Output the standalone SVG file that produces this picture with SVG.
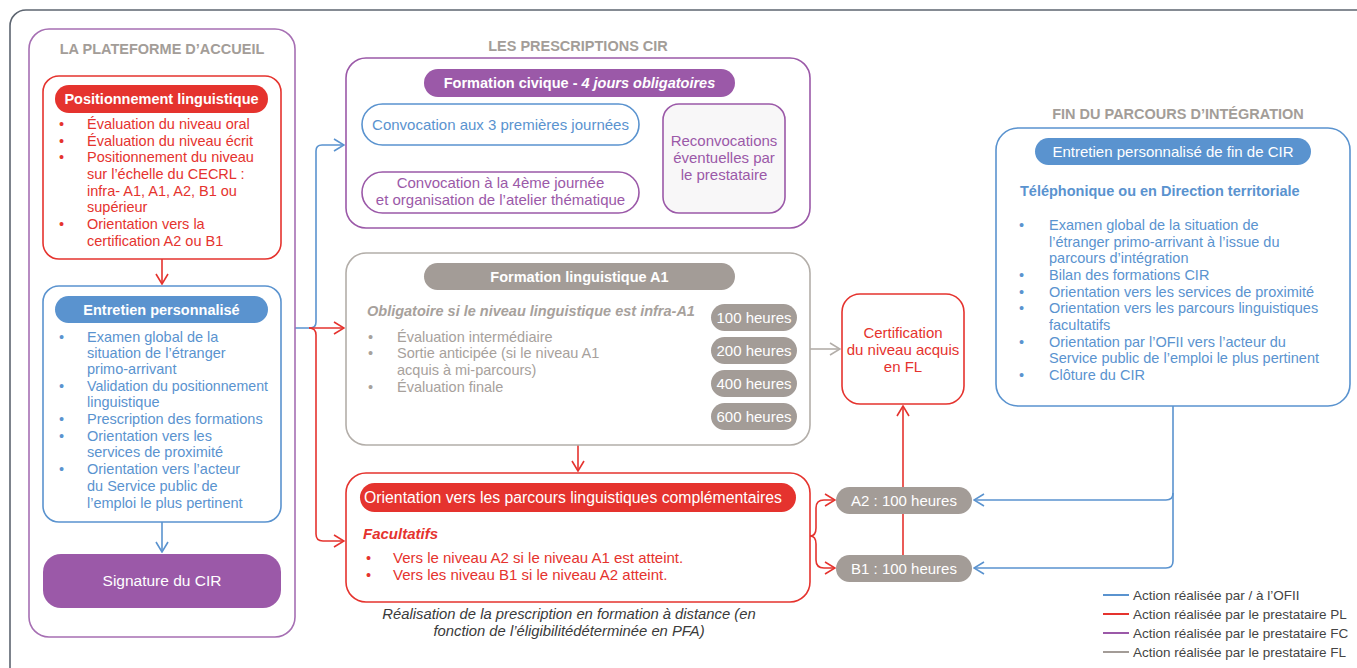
<svg xmlns="http://www.w3.org/2000/svg" width="1357" height="668" viewBox="0 0 1357 668">
<defs>
<style>
text{font-family:"Liberation Sans",Arial,sans-serif;font-size:14.5px}
.sec{fill:#a39d98;font-size:14.5px;font-weight:700;text-anchor:middle}
.ph{fill:#fff;font-weight:700;text-anchor:middle}
.pn{fill:#fff;text-anchor:middle;font-size:15px}
.red{fill:#e5332e}
.blue{fill:#5a93cf}
.pur{fill:#9b59a8}
.gry{fill:#a7a19c}
.c{text-anchor:middle}
.f15{font-size:15px}
.bb{stroke:#5a93cf}
.br{stroke:#e5332e}
.bp{stroke:#9b59a8}
.bg{stroke:#b3aea9}
.box{fill:#fff;stroke-width:1.6}
.ln{fill:none;stroke-width:1.6}
.leg{fill:#444;font-size:13.5px}
</style>
<marker id="ab" viewBox="0 0 12 14" refX="11" refY="7" markerWidth="12" markerHeight="14" markerUnits="userSpaceOnUse" orient="auto"><path d="M1,1 L11,7 L1,13" fill="none" stroke="#5a93cf" stroke-width="1.6"/></marker>
<marker id="ar" viewBox="0 0 12 14" refX="11" refY="7" markerWidth="12" markerHeight="14" markerUnits="userSpaceOnUse" orient="auto"><path d="M1,1 L11,7 L1,13" fill="none" stroke="#e5332e" stroke-width="1.6"/></marker>
<marker id="ap" viewBox="0 0 12 14" refX="11" refY="7" markerWidth="12" markerHeight="14" markerUnits="userSpaceOnUse" orient="auto"><path d="M1,1 L11,7 L1,13" fill="none" stroke="#9b59a8" stroke-width="1.6"/></marker>
<marker id="ag" viewBox="0 0 12 14" refX="11" refY="7" markerWidth="12" markerHeight="14" markerUnits="userSpaceOnUse" orient="auto"><path d="M1,1 L11,7 L1,13" fill="none" stroke="#b3aea9" stroke-width="1.6"/></marker>
</defs>
<rect width="1357" height="668" fill="#fff"/>
<rect x="10" y="10" width="1370" height="680" rx="16" fill="none" stroke="#5d6570" stroke-width="1.6"/>

<g id="connectors">
<path class="ln br" d="M162,259 V284" marker-end="url(#ar)"/>
<path class="ln bb" d="M162,522 V552" marker-end="url(#ab)"/>
<path class="ln bb" d="M295,328 H310 Q316,328 316,322 V151 Q316,145 322,145 H344" marker-end="url(#ab)"/>
<path class="ln br" d="M309,328 H344" marker-end="url(#ar)"/>
<path class="ln br" d="M309,328 Q316,328 316,335 V534 Q316,541 323,541 H344" marker-end="url(#ar)"/>
<path class="ln bp" d="M497,145 V170" marker-end="url(#ap)"/>
<path class="ln bp" d="M639,127 C650,127 645,157 661,157" marker-end="url(#ap)"/>
<path class="ln bp" d="M639,192 C650,192 645,157 661,157" marker-end="url(#ap)"/>
<path class="ln br" d="M578,445 V471" marker-end="url(#ar)"/>
<path class="ln bg" d="M810,349 H840" marker-end="url(#ag)"/>
<path class="ln br" d="M903,555 V406" marker-end="url(#ar)"/>
<path class="ln br" d="M810,536 Q816,536 816,528 V508 Q816,500 824,500 H835" marker-end="url(#ar)"/>
<path class="ln br" d="M810,536 Q816,536 816,544 V560 Q816,568 824,568 H835" marker-end="url(#ar)"/>
<path class="ln bb" d="M1173,406 V493 Q1173,500 1166,500 H974" marker-end="url(#ab)"/>
<path class="ln bb" d="M1173,493 V561 Q1173,568 1166,568 H974" marker-end="url(#ab)"/>
</g>

<g id="plateforme">
<rect x="29" y="29" width="266" height="608" rx="20" fill="none" stroke="#a66fb3" stroke-width="1.6"/>
<text class="sec" x="162" y="54">LA PLATEFORME D’ACCUEIL</text>
</g>

<g id="positionnement">
<rect class="box br" x="43" y="76" width="238" height="183" rx="16"/>
<rect x="55" y="85" width="213" height="28" rx="14" fill="#e5332e"/>
<text class="ph" x="161.5" y="104">Positionnement linguistique</text>
<g class="red">
<text x="59" y="129">•</text><text x="87" y="129">Évaluation du niveau oral</text>
<text x="59" y="146">•</text><text x="87" y="146">Évaluation du niveau écrit</text>
<text x="59" y="162">•</text><text x="87" y="162">Positionnement du niveau</text>
<text x="87" y="179">sur l’échelle du CECRL :</text>
<text x="87" y="196">infra- A1, A1, A2, B1 ou</text>
<text x="87" y="212">supérieur</text>
<text x="59" y="229">•</text><text x="87" y="229">Orientation vers la</text>
<text x="87" y="246">certification A2 ou B1</text>
</g>
</g>

<g id="entretien">
<rect class="box bb" x="43" y="286" width="238" height="236" rx="16"/>
<rect x="55" y="296" width="213" height="27" rx="13.5" fill="#5a93cf"/>
<text class="ph" x="161.5" y="314.5">Entretien personnalisé</text>
<g class="blue">
<text x="59" y="342">•</text><text x="87" y="342">Examen global de la</text>
<text x="87" y="358">situation de l’étranger</text>
<text x="87" y="374">primo-arrivant</text>
<text x="59" y="391">•</text><text x="87" y="391" textLength="181" lengthAdjust="spacingAndGlyphs">Validation du positionnement</text>
<text x="87" y="407">linguistique</text>
<text x="59" y="424">•</text><text x="87" y="424">Prescription des formations</text>
<text x="59" y="441">•</text><text x="87" y="441">Orientation vers les</text>
<text x="87" y="457">services de proximité</text>
<text x="59" y="474">•</text><text x="87" y="474">Orientation vers l’acteur</text>
<text x="87" y="491">du Service public de</text>
<text x="87" y="508">l’emploi le plus pertinent</text>
</g>
</g>

<g id="signature">
<rect x="43" y="554" width="238" height="54" rx="18" fill="#9b59a8"/>
<text class="pn" x="162" y="586" style="font-size:15.5px">Signature du CIR</text>
</g>

<g id="formation-civique">
<text class="sec" x="578" y="51">LES PRESCRIPTIONS CIR</text>
<rect class="box bp" x="346" y="58" width="464" height="170" rx="20"/>
<rect x="424" y="69" width="311" height="28" rx="14" fill="#9b59a8"/>
<text class="ph" x="579.5" y="88">Formation civique - <tspan font-style="italic">4 jours obligatoires</tspan></text>
</g>

<g id="convocation-3">
<rect class="box bb" x="362" y="104" width="277" height="41" rx="20.5"/>
<text class="blue c f15" x="500.5" y="130">Convocation aux 3 premières journées</text>
</g>

<g id="convocation-4">
<rect class="box bp" x="362" y="172" width="277" height="41" rx="20.5"/>
<text class="pur c f15" x="500.5" y="188">Convocation à la 4ème journée</text>
<text class="pur c f15" x="500.5" y="205">et organisation de l’atelier thématique</text>
</g>

<g id="reconvocations">
<rect x="663" y="104" width="122" height="109" rx="16" fill="#f8f7f8" stroke="#9b59a8" stroke-width="1.6"/>
<text class="pur c f15" x="724" y="146">Reconvocations</text>
<text class="pur c f15" x="724" y="163">éventuelles par</text>
<text class="pur c f15" x="724" y="180">le prestataire</text>
</g>

<g id="formation-linguistique">
<rect class="box bg" x="346" y="253" width="464" height="192" rx="20"/>
<rect x="424" y="263" width="311" height="27" rx="13.5" fill="#a39c97"/>
<text class="ph" x="579.5" y="281.5">Formation linguistique A1</text>
<text class="gry" x="367" y="316" font-weight="700" font-style="italic">Obligatoire si le niveau linguistique est infra-A1</text>
<g class="gry">
<text x="368" y="342">•</text><text x="397" y="342">Évaluation intermédiaire</text>
<text x="368" y="358">•</text><text x="397" y="358">Sortie anticipée (si le niveau A1</text>
<text x="397" y="375">acquis à mi-parcours)</text>
<text x="368" y="392">•</text><text x="397" y="392">Évaluation finale</text>
</g>
<rect x="711" y="304" width="86" height="27" rx="13.5" fill="#a39c97"/>
<text class="pn" x="754" y="322.5">100 heures</text>
<rect x="711" y="337" width="86" height="27" rx="13.5" fill="#a39c97"/>
<text class="pn" x="754" y="355.5">200 heures</text>
<rect x="711" y="370" width="86" height="27" rx="13.5" fill="#a39c97"/>
<text class="pn" x="754" y="388.5">400 heures</text>
<rect x="711" y="403" width="86" height="27" rx="13.5" fill="#a39c97"/>
<text class="pn" x="754" y="421.5">600 heures</text>
</g>

<g id="orientation">
<rect class="box br" x="346" y="473" width="464" height="129" rx="20"/>
<rect x="360" y="483" width="436" height="29" rx="14.5" fill="#e5332e"/>
<text class="pn" x="573" y="503" style="font-size:15.8px">Orientation vers les parcours linguistiques complémentaires</text>
<text class="red f15" x="363" y="539" font-weight="700" font-style="italic">Facultatifs</text>
<g class="red">
<text x="366" y="563">•</text><text class="f15" x="393" y="563">Vers le niveau A2 si le niveau A1 est atteint.</text>
<text x="366" y="580">•</text><text class="f15" x="393" y="580">Vers les niveau B1 si le niveau A2 atteint.</text>
</g>
<text x="569" y="619" fill="#3a3a3a" font-style="italic" text-anchor="middle" style="font-size:14.8px">Réalisation de la prescription en formation à distance (en</text>
<text x="569" y="636" fill="#3a3a3a" font-style="italic" text-anchor="middle" style="font-size:14.8px">fonction de l’éligibilitédéterminée en PFA)</text>
</g>

<g id="certification">
<rect class="box br" x="842" y="294" width="122" height="110" rx="18"/>
<text class="red c f15" x="903" y="338">Certification</text>
<text class="red c f15" x="903" y="355">du niveau acquis</text>
<text class="red c f15" x="903" y="372">en FL</text>
</g>

<g id="a2">
<rect x="836" y="487" width="136" height="27" rx="13.5" fill="#a39c97"/>
<text class="pn" x="904" y="505.5">A2 : 100 heures</text>
</g>
<g id="b1">
<rect x="836" y="555" width="136" height="27" rx="13.5" fill="#a39c97"/>
<text class="pn" x="904" y="573.5">B1 : 100 heures</text>
</g>

<g id="fin-cir">
<text class="sec" x="1178" y="119">FIN DU PARCOURS D’INTÉGRATION</text>
<rect class="box bb" x="996" y="128" width="354" height="278" rx="22"/>
<rect x="1035" y="138" width="276" height="27" rx="13.5" fill="#5a93cf"/>
<text class="pn" x="1173" y="156.5">Entretien personnalisé de fin de CIR</text>
<text class="blue" x="1020" y="196" font-weight="700">Téléphonique ou en Direction territoriale</text>
<g class="blue">
<text x="1019" y="230">•</text><text x="1049" y="230">Examen global de la situation de</text>
<text x="1049" y="247">l’étranger primo-arrivant à l’issue du</text>
<text x="1049" y="263">parcours d’intégration</text>
<text x="1019" y="280">•</text><text x="1049" y="280">Bilan des formations CIR</text>
<text x="1019" y="297">•</text><text x="1049" y="297">Orientation vers les services de proximité</text>
<text x="1019" y="313">•</text><text x="1049" y="313">Orientation vers les parcours linguistiques</text>
<text x="1049" y="330">facultatifs</text>
<text x="1019" y="347">•</text><text x="1049" y="347">Orientation par l’OFII vers l’acteur du</text>
<text x="1049" y="363">Service public de l’emploi le plus pertinent</text>
<text x="1019" y="380">•</text><text x="1049" y="380">Clôture du CIR</text>
</g>
</g>

<g id="legend">
<line x1="1103" y1="595" x2="1129" y2="595" stroke="#5a93cf" stroke-width="2"/>
<text class="leg" x="1133" y="599.5">Action réalisée par / à l’OFII</text>
<line x1="1103" y1="614" x2="1129" y2="614" stroke="#e5332e" stroke-width="2"/>
<text class="leg" x="1133" y="618.5">Action réalisée par le prestataire PL</text>
<line x1="1103" y1="633" x2="1129" y2="633" stroke="#9b59a8" stroke-width="2"/>
<text class="leg" x="1133" y="637.5">Action réalisée par le prestataire FC</text>
<line x1="1103" y1="652" x2="1129" y2="652" stroke="#a39c97" stroke-width="2"/>
<text class="leg" x="1133" y="656.5">Action réalisée par le prestataire FL</text>
</g>
</svg>
